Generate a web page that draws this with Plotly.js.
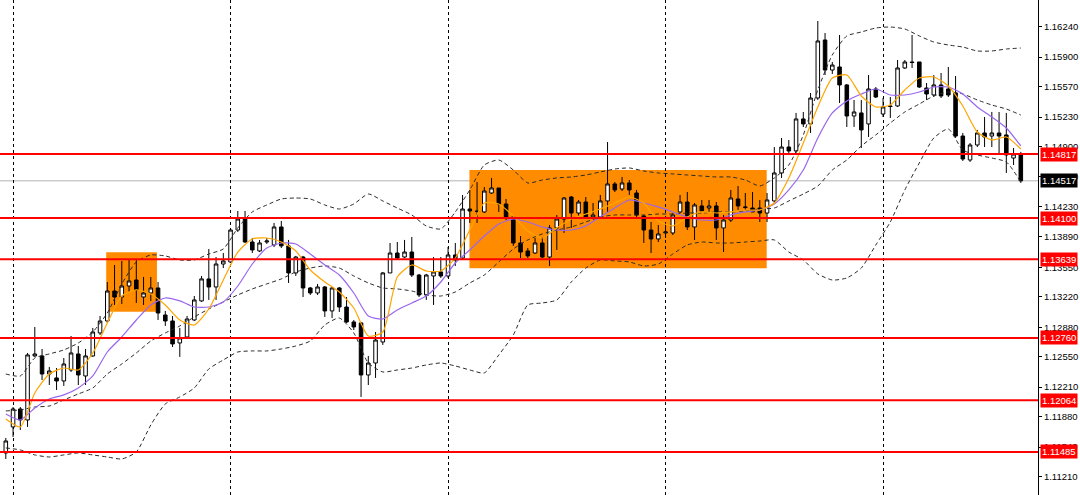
<!DOCTYPE html>
<html>
<head>
<meta charset="utf-8">
<script src="https://cdn.plot.ly/plotly-3.0.1.min.js"></script>
<style>
  html, body { margin: 0; padding: 0; background: #ffffff; }
  #chart { width: 1080px; height: 495px; }
</style>
</head>
<body>
<div id="chart"></div>
<script>
// ---- candle data (bar index order) ----
const barOpen = [
1.11474,1.11765,1.11966,1.11843,1.12559,1.12559,1.12357,1.12313,1.12279,1.12402,
1.12581,1.12335,1.12559,1.12816,1.12950,1.13285,1.13218,1.13341,1.13408,1.13218,
1.13263,1.13319,1.13017,1.12950,1.12704,1.12771,1.12961,1.13174,1.13420,1.13330,
1.13587,1.13610,1.13967,1.14090,1.13833,1.13733,1.13833,1.13800,1.14001,1.13789,
1.13487,1.13665,1.13319,1.13263,1.13330,1.13062,1.13319,1.13106,1.12939,1.12928,
1.12346,1.12480,1.12715,1.13487,1.13710,1.13665,1.13721,1.13464,1.13241,1.13453,
1.13498,1.13453,1.13688,1.13654,1.14202,1.14180,1.14169,1.14381,1.14437,1.14258,
1.14113,1.13822,1.13733,1.13710,1.13822,1.13665,1.13990,1.14090,1.14336,1.14157,
1.14280,1.14113,1.14113,1.14292,1.14482,1.14426,1.14493,1.14381,1.14124,1.13967,
1.13867,1.13934,1.13934,1.14169,1.14280,1.14001,1.14236,1.14213,1.14236,1.13990,
1.14079,1.14314,1.14225,1.14213,1.14213,1.14157,1.14292,1.14605,1.14895,1.14851,
1.15209,1.15153,1.15443,1.16092,1.15756,1.15790,1.15589,1.15242,1.15276,1.15153,
1.15544,1.15264,1.15354,1.15354,1.15779,1.15846,1.15846,1.15555,1.15477,1.15589,
1.15544,1.15499,1.15018,1.14750,1.14918,1.15052,1.15018,1.15052,1.15030,1.14772,
1.14817];
const barHigh = [
1.11642,1.11988,1.11988,1.12592,1.12883,1.12637,1.12436,1.12424,1.12536,1.12782,
1.12670,1.12637,1.12872,1.13006,1.13386,1.13576,1.13621,1.13632,1.13632,1.13442,
1.13442,1.13386,1.13062,1.13006,1.12872,1.13006,1.13229,1.13453,1.13755,1.13665,
1.13710,1.13990,1.14180,1.14180,1.13878,1.13856,1.13878,1.14046,1.14068,1.13856,
1.13677,1.13677,1.13330,1.13364,1.13341,1.13330,1.13330,1.13218,1.12961,1.12939,
1.12559,1.12827,1.13498,1.13822,1.13833,1.13856,1.13889,1.13476,1.13476,1.13665,
1.13665,1.13777,1.13822,1.14359,1.14415,1.14504,1.14448,1.14549,1.14437,1.14314,
1.14113,1.13900,1.13766,1.13878,1.13889,1.14023,1.14135,1.14336,1.14348,1.14303,
1.14336,1.14269,1.14359,1.14951,1.14504,1.14560,1.14526,1.14415,1.14135,1.14057,
1.14023,1.14023,1.14157,1.14359,1.14392,1.14269,1.14303,1.14303,1.14280,1.14135,
1.14415,1.14459,1.14381,1.14392,1.14303,1.14381,1.14895,1.14996,1.14974,1.15276,
1.15287,1.15499,1.16304,1.16170,1.15846,1.16148,1.15600,1.15421,1.15421,1.15700,
1.15566,1.15443,1.15454,1.15868,1.15868,1.16148,1.15846,1.15611,1.15700,1.15723,
1.15790,1.15689,1.15052,1.14940,1.15086,1.15231,1.15287,1.15287,1.15276,1.14884,
1.14840];
const barLow = [
1.11407,1.11653,1.11731,1.11765,1.12548,1.12290,1.12234,1.12178,1.12223,1.12380,
1.12234,1.12234,1.12548,1.12793,1.12928,1.13129,1.13140,1.13274,1.13151,1.13129,
1.13174,1.12961,1.12894,1.12659,1.12548,1.12760,1.12950,1.13163,1.13185,1.13185,
1.13542,1.13598,1.13945,1.13822,1.13710,1.13721,1.13811,1.13777,1.13766,1.13375,
1.13453,1.13218,1.13241,1.13241,1.12995,1.12983,1.13050,1.12928,1.12849,1.12100,
1.12234,1.12313,1.12682,1.13487,1.13632,1.13654,1.13442,1.13218,1.13185,1.13129,
1.13431,1.13431,1.13565,1.13632,1.14046,1.14046,1.14157,1.14370,1.14169,1.14079,
1.13789,1.13654,1.13654,1.13699,1.13654,1.13565,1.13744,1.13934,1.13990,1.14124,
1.14102,1.14102,1.14102,1.14169,1.14392,1.14403,1.14359,1.14113,1.13822,1.13710,
1.13833,1.13878,1.13911,1.14157,1.13967,1.13856,1.14169,1.14169,1.13856,1.13721,
1.14057,1.14191,1.14191,1.14169,1.14057,1.14057,1.14269,1.14549,1.14828,1.14828,
1.15119,1.15052,1.15421,1.15700,1.15712,1.15387,1.15119,1.15119,1.14884,1.15007,
1.15443,1.15231,1.15220,1.15343,1.15768,1.15779,1.15555,1.15421,1.15454,1.15443,
1.15454,1.14996,1.14739,1.14728,1.14895,1.14895,1.14895,1.14806,1.14605,1.14694,
1.14493];
const barClose = [
1.11608,1.11966,1.11843,1.12570,1.12581,1.12357,1.12391,1.12279,1.12469,1.12592,
1.12346,1.12559,1.12827,1.12950,1.13285,1.13218,1.13341,1.13397,1.13297,1.13263,
1.13319,1.13039,1.12950,1.12693,1.12760,1.12972,1.13185,1.13420,1.13330,1.13587,
1.13621,1.13967,1.14090,1.13833,1.13744,1.13822,1.13844,1.14001,1.13789,1.13487,
1.13665,1.13319,1.13263,1.13330,1.13062,1.13319,1.13106,1.12939,1.12883,1.12346,
1.12480,1.12737,1.13487,1.13710,1.13654,1.13721,1.13464,1.13241,1.13464,1.13498,
1.13453,1.13688,1.13632,1.14202,1.14180,1.14174,1.14403,1.14437,1.14258,1.14113,
1.13822,1.13721,1.13677,1.13822,1.13665,1.13990,1.14090,1.14325,1.14157,1.14280,
1.14113,1.14135,1.14292,1.14482,1.14415,1.14493,1.14415,1.14135,1.13967,1.13867,
1.13923,1.13945,1.14135,1.14280,1.14001,1.14247,1.14180,1.14236,1.13990,1.14079,
1.14325,1.14236,1.14220,1.14169,1.14157,1.14303,1.14605,1.14895,1.14851,1.15209,
1.15153,1.15443,1.16081,1.15756,1.15812,1.15589,1.15242,1.15287,1.15086,1.15544,
1.15454,1.15343,1.15348,1.15779,1.15846,1.15840,1.15566,1.15488,1.15589,1.15466,
1.15477,1.15018,1.14761,1.14918,1.15052,1.15007,1.15052,1.15018,1.14806,1.14817,
1.14517];

const lineBars = [0,2,4,6,8,10,12,14,16,18,20,22,24,26,28,30,32,34,36,38,
40,42,44,46,48,50,52,54,56,58,60,62,64,66,68,70,72,74,76,78,
80,82,84,86,88,90,92,94,96,98,100,102,104,106,108,110,112,114,116,118,
120,122,124,126,128,130,132,134,136,138,140];
const maFast = [
1.11854,1.11765,1.12145,1.12357,1.12424,1.12402,1.12592,1.12928,1.13229,1.13297,
1.13252,1.13129,1.12961,1.12905,1.13084,1.13408,1.13721,1.13867,1.13878,1.13833,
1.13733,1.13520,1.13386,1.13274,1.13095,1.12782,1.12827,1.13442,1.13576,1.13509,
1.13509,1.13654,1.13967,1.14269,1.14258,1.14124,1.13956,1.13878,1.13990,1.14090,
1.14146,1.14202,1.14269,1.14336,1.14269,1.14068,1.14012,1.14113,1.14169,1.14157,
1.14169,1.14191,1.14191,1.14269,1.14549,1.14940,1.15343,1.15667,1.15700,1.15466,
1.15343,1.15365,1.15533,1.15667,1.15678,1.15577,1.15354,1.15063,1.14974,1.15007,
1.14873];
const maSlow = [
1.11910,1.11843,1.11977,1.12078,1.12123,1.12201,1.12335,1.12603,1.12771,1.12961,
1.13129,1.13207,1.13174,1.13106,1.13106,1.13163,1.13341,1.13587,1.13766,1.13822,
1.13811,1.13699,1.13576,1.13464,1.13263,1.13006,1.12972,1.13073,1.13151,1.13229,
1.13386,1.13598,1.13744,1.13900,1.14035,1.14090,1.14057,1.14001,1.13967,1.13967,
1.14012,1.14113,1.14213,1.14303,1.14269,1.14225,1.14169,1.14113,1.14079,1.14079,
1.14135,1.14169,1.14191,1.14258,1.14415,1.14638,1.14996,1.15276,1.15410,1.15488,
1.15544,1.15477,1.15477,1.15510,1.15566,1.15566,1.15488,1.15343,1.15231,1.15108,
1.14907];
const bandUpper = [
1.12357,1.12335,1.12536,1.12581,1.12626,1.12704,1.12827,1.13039,1.13364,1.13610,
1.13688,1.13677,1.13632,1.13632,1.13699,1.13755,1.13990,1.14169,1.14247,1.14314,
1.14325,1.14314,1.14247,1.14202,1.14258,1.14370,1.14292,1.14213,1.14135,1.14012,
1.13979,1.14169,1.14415,1.14694,1.14750,1.14638,1.14493,1.14526,1.14549,1.14560,
1.14582,1.14616,1.14649,1.14661,1.14627,1.14605,1.14594,1.14582,1.14571,1.14560,
1.14560,1.14526,1.14459,1.14549,1.14694,1.15030,1.15533,1.15924,1.16137,1.16181,
1.16226,1.16237,1.16215,1.16137,1.16069,1.16036,1.16013,1.15969,1.15969,1.15991,
1.16002];
const bandMiddle = [
1.11944,1.11955,1.11988,1.11999,1.12067,1.12134,1.12201,1.12357,1.12469,1.12592,
1.12726,1.12816,1.12894,1.12995,1.13084,1.13163,1.13241,1.13308,1.13364,1.13420,
1.13498,1.13542,1.13565,1.13542,1.13453,1.13375,1.13319,1.13308,1.13285,1.13241,
1.13229,1.13274,1.13375,1.13464,1.13610,1.13755,1.13856,1.13923,1.13967,1.14001,
1.14057,1.14113,1.14135,1.14135,1.14135,1.14146,1.14146,1.14157,1.14157,1.14169,
1.14169,1.14180,1.14202,1.14213,1.14292,1.14370,1.14459,1.14638,1.14750,1.14907,
1.15030,1.15164,1.15287,1.15376,1.15466,1.15510,1.15488,1.15421,1.15365,1.15320,
1.15253];
const bandLower = [
1.11530,1.11508,1.11452,1.11429,1.11452,1.11474,1.11452,1.11429,1.11407,1.11485,
1.11787,1.12022,1.12100,1.12201,1.12413,1.12514,1.12603,1.12615,1.12615,1.12637,
1.12670,1.12726,1.12905,1.12983,1.12816,1.12480,1.12380,1.12402,1.12424,1.12458,
1.12480,1.12447,1.12402,1.12369,1.12570,1.12793,1.13129,1.13151,1.13185,1.13386,
1.13542,1.13632,1.13621,1.13610,1.13565,1.13587,1.13699,1.13800,1.13833,1.13822,
1.13822,1.13833,1.13844,1.13856,1.13721,1.13632,1.13476,1.13408,1.13431,1.13542,
1.13800,1.14057,1.14415,1.14717,1.14996,1.15097,1.14862,1.14806,1.14772,1.14728,
1.14504];

// ---- chart objects ----
const levelPrices = [1.14817, 1.14100, 1.13639, 1.12760, 1.12064, 1.11485];
const lastPrice = 1.14517;
const zoneStart = [13.85, 63.95];
const zoneEnd = [20.85, 104.95];
const zoneLow = [1.13054, 1.13539];
const zoneHigh = [1.13718, 1.14638];
const separatorBars = [1, 31, 61, 91, 121];
const priceTicks = [1.11210,1.11540,1.11880,1.12210,1.12550,1.12880,1.13220,1.13550,
                    1.13890,1.14230,1.14560,1.14900,1.15230,1.15570,1.15900,1.16240];

const barIdx = barOpen.map((_, i) => i);
const FONT = 'Liberation Sans, Arial, sans-serif';
const FSIZE = 9.5;

const bandStyle = {color: '#2a2a2a', width: 1, dash: '4px,3px', shape: 'spline', smoothing: 0.6};

const traces = [
  {type: 'scatter', mode: 'lines', x: lineBars, y: bandUpper, line: bandStyle, hoverinfo: 'skip'},
  {type: 'scatter', mode: 'lines', x: lineBars, y: bandMiddle, line: bandStyle, hoverinfo: 'skip'},
  {type: 'scatter', mode: 'lines', x: lineBars, y: bandLower, line: bandStyle, hoverinfo: 'skip'},
  {
    type: 'candlestick', x: barIdx, open: barOpen, high: barHigh, low: barLow, close: barClose,
    increasing: {line: {color: '#000000', width: 1}, fillcolor: '#ffffff'},
    decreasing: {line: {color: '#000000', width: 1}, fillcolor: '#000000'},
    whiskerwidth: 0, hoverinfo: 'skip'
  },
  {type: 'scatter', mode: 'lines', x: lineBars, y: maSlow,
   line: {color: '#9966ee', width: 1.2, shape: 'spline', smoothing: 0.6}, hoverinfo: 'skip'},
  {type: 'scatter', mode: 'lines', x: lineBars, y: maFast,
   line: {color: '#ffa500', width: 1.2, shape: 'spline', smoothing: 0.6}, hoverinfo: 'skip'}
];

const shapes = [];
zoneStart.forEach((s, k) => {
  shapes.push({type: 'rect', xref: 'x', yref: 'y', x0: s, x1: zoneEnd[k], y0: zoneLow[k], y1: zoneHigh[k],
               fillcolor: '#ff8c00', line: {width: 0}, layer: 'below'});
});
shapes.push({type: 'line', xref: 'paper', yref: 'y', x0: 0, x1: 1, y0: lastPrice, y1: lastPrice,
             line: {color: '#b4b4b4', width: 1}, layer: 'below'});
levelPrices.forEach(p => {
  shapes.push({type: 'line', xref: 'paper', yref: 'y', x0: 0, x1: 1, y0: p, y1: p,
               line: {color: '#ff0000', width: 2}, layer: 'above'});
});

const annotations = levelPrices.map(p => ({
  xref: 'paper', yref: 'y', x: 1, y: p, xanchor: 'left', yanchor: 'middle', xshift: 2,
  text: p.toFixed(5), showarrow: false, bgcolor: '#ff0000', borderpad: 1,
  font: {family: FONT, size: FSIZE, color: '#ffffff'}
}));
annotations.push({
  xref: 'paper', yref: 'y', x: 1, y: lastPrice, xanchor: 'left', yanchor: 'middle', xshift: 2,
  text: lastPrice.toFixed(5), showarrow: false, bgcolor: '#000000', borderpad: 1,
  font: {family: FONT, size: FSIZE, color: '#ffffff'}
});

const layout = {
  width: 1080, height: 495,
  margin: {l: 0, r: 42, t: 0, b: 0, pad: 0},
  paper_bgcolor: '#ffffff', plot_bgcolor: '#ffffff',
  showlegend: false,
  xaxis: {
    range: [-0.8, 142.37], rangeslider: {visible: false},
    tickmode: 'array', tickvals: separatorBars, showticklabels: false, ticks: '',
    showgrid: true, gridcolor: '#000000', gridwidth: 1, griddash: '3px,3px',
    zeroline: false, showline: false, fixedrange: true
  },
  yaxis: {
    side: 'right', range: [1.11004, 1.16539],
    tickmode: 'array', tickvals: priceTicks, ticktext: priceTicks.map(v => v.toFixed(5)),
    ticks: 'outside', ticklen: 3, tickcolor: '#000000', tickwidth: 1,
    showgrid: false, zeroline: false, showline: true, linecolor: '#000000', linewidth: 1,
    tickfont: {family: FONT, size: FSIZE, color: '#000000'}, fixedrange: true
  },
  shapes: shapes,
  annotations: annotations,
  font: {family: FONT}
};

Plotly.newPlot('chart', traces, layout, {displayModeBar: false, staticPlot: true});
</script>
</body>
</html>
